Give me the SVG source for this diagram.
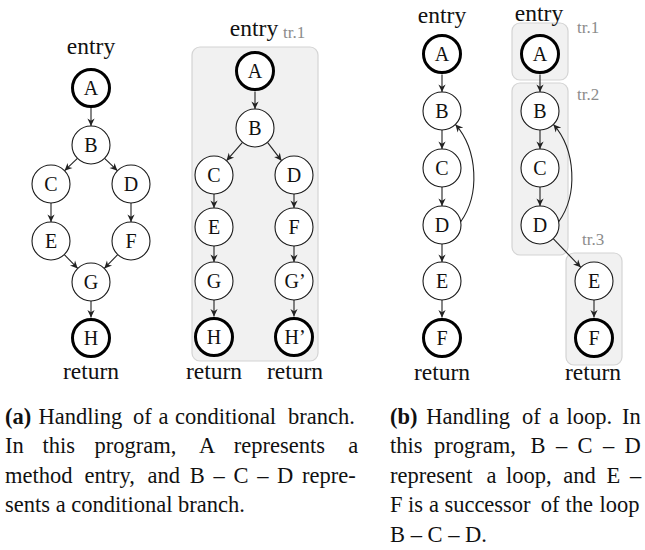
<svg xmlns="http://www.w3.org/2000/svg" width="645" height="550" viewBox="0 0 645 550">
<style>
.n{fill:#fff;stroke:#1a1a1a;stroke-width:1.1}
.t{fill:#fff;stroke:#000;stroke-width:3}
.lb{font-family:"Liberation Serif",serif;font-size:20px;fill:#111;text-anchor:middle}
.er{font-family:"Liberation Serif",serif;font-size:23.5px;fill:#111;text-anchor:middle}
.tr{font-family:"Liberation Serif",serif;font-size:17px;fill:#8c8c8c}
.box{fill:#f1f1f1;stroke:#d4d4d4;stroke-width:1.2}
.e{fill:none;stroke:#222;stroke-width:1.1;marker-end:url(#ah)}
.cap{font-family:"Liberation Serif",serif;font-size:22.5px;fill:#111}
.b{font-weight:bold}
</style>
<defs>
<marker id="ah" viewBox="-8 -4 9 8" refX="0" refY="0" markerWidth="9" markerHeight="8" markerUnits="userSpaceOnUse" orient="auto">
<path d="M0,0 L-7.5,-3.6 L-5.2,0 L-7.5,3.6 Z" fill="#222"/>
</marker>
</defs>

<g id="boxes">
<rect class="box" x="192" y="47" width="126" height="314" rx="8"/>
<rect class="box" x="512" y="23" width="56" height="57" rx="8"/>
<rect class="box" x="512" y="83" width="56" height="172" rx="8"/>
<rect class="box" x="566" y="253" width="56" height="112" rx="8"/>
</g>

<g id="connectors">
<!-- a1 -->
<path class="e" d="M91,108 L91,126"/>
<path class="e" d="M77.4,158.3 L64.6,170.7"/>
<path class="e" d="M104.6,158.3 L117.4,170.7"/>
<path class="e" d="M51,203 L51,222"/>
<path class="e" d="M131,203 L131,222"/>
<path class="e" d="M64.3,254.6 L77.7,268.4"/>
<path class="e" d="M117.7,254.6 L104.3,268.4"/>
<path class="e" d="M91,301 L91,317.5"/>
<!-- a2 -->
<path class="e" d="M255,91.5 L255,109"/>
<path class="e" d="M242.5,142.3 L226.5,160.7"/>
<path class="e" d="M267.5,142.3 L281.5,160.7"/>
<path class="e" d="M214,194 L214,208"/>
<path class="e" d="M294,194 L294,208"/>
<path class="e" d="M214,246 L214,262"/>
<path class="e" d="M294,246 L294,262"/>
<path class="e" d="M214,300 L214,316.5"/>
<path class="e" d="M294,300 L294,316.5"/>
<!-- b1 -->
<path class="e" d="M442,74.5 L442,92"/>
<path class="e" d="M442,130 L442,149"/>
<path class="e" d="M442,187 L442,206"/>
<path class="e" d="M442,244 L442,262"/>
<path class="e" d="M442,300 L442,317.5"/>
<path class="e" d="M460.7,221.7 C480,195 478,150 455.4,124.4"/>
<!-- b2 -->
<path class="e" d="M540,74.5 L540,92"/>
<path class="e" d="M540,130 L540,149"/>
<path class="e" d="M540,187 L540,206"/>
<path class="e" d="M553.2,238.7 L580.8,267.3"/>
<path class="e" d="M594,300 L594,317.5"/>
<path class="e" d="M558.7,221.7 C578,195 576,150 553.4,124.4"/>
</g>

<g id="a1">
<text class="er" x="91" y="54">entry</text>
<g id="a1-A"><circle class="t" cx="91" cy="88" r="18.5"/><text class="lb" x="91" y="95">A</text></g>
<g id="a1-B"><circle class="n" cx="91" cy="145" r="19"/><text class="lb" x="91" y="152">B</text></g>
<g id="a1-C"><circle class="n" cx="51" cy="184" r="19"/><text class="lb" x="51" y="191">C</text></g>
<g id="a1-D"><circle class="n" cx="131" cy="184" r="19"/><text class="lb" x="131" y="191">D</text></g>
<g id="a1-E"><circle class="n" cx="51" cy="241" r="19"/><text class="lb" x="51" y="248">E</text></g>
<g id="a1-F"><circle class="n" cx="131" cy="241" r="19"/><text class="lb" x="131" y="248">F</text></g>
<g id="a1-G"><circle class="n" cx="91" cy="282" r="19"/><text class="lb" x="91" y="289">G</text></g>
<g id="a1-H"><circle class="t" cx="91" cy="338" r="18.5"/><text class="lb" x="91" y="345">H</text></g>
<text class="er" x="91" y="379">return</text>
</g>

<g id="a2">
<text class="er" x="254" y="36">entry</text>
<text class="tr" x="283" y="38">tr.1</text>
<g id="a2-A"><circle class="t" cx="255" cy="71" r="18.5"/><text class="lb" x="255" y="78">A</text></g>
<g id="a2-B"><circle class="n" cx="255" cy="128" r="19"/><text class="lb" x="255" y="135">B</text></g>
<g id="a2-C"><circle class="n" cx="214" cy="175" r="19"/><text class="lb" x="214" y="182">C</text></g>
<g id="a2-D"><circle class="n" cx="294" cy="175" r="19"/><text class="lb" x="294" y="182">D</text></g>
<g id="a2-E"><circle class="n" cx="214" cy="227" r="19"/><text class="lb" x="214" y="234">E</text></g>
<g id="a2-F"><circle class="n" cx="294" cy="227" r="19"/><text class="lb" x="294" y="234">F</text></g>
<g id="a2-G"><circle class="n" cx="214" cy="281" r="19"/><text class="lb" x="214" y="288">G</text></g>
<g id="a2-G2"><circle class="n" cx="294" cy="281" r="19"/><text class="lb" x="295" y="288">G’</text></g>
<g id="a2-H"><circle class="t" cx="214" cy="337" r="18.5"/><text class="lb" x="214" y="344">H</text></g>
<g id="a2-H2"><circle class="t" cx="294" cy="337" r="18.5"/><text class="lb" x="295" y="344">H’</text></g>
<text class="er" x="214" y="379">return</text>
<text class="er" x="295" y="379">return</text>
</g>

<g id="b1">
<text class="er" x="442" y="23">entry</text>
<g id="b1-A"><circle class="t" cx="442" cy="54" r="18.5"/><text class="lb" x="442" y="61">A</text></g>
<g id="b1-B"><circle class="n" cx="442" cy="111" r="19"/><text class="lb" x="442" y="118">B</text></g>
<g id="b1-C"><circle class="n" cx="442" cy="168" r="19"/><text class="lb" x="442" y="175">C</text></g>
<g id="b1-D"><circle class="n" cx="442" cy="225" r="19"/><text class="lb" x="442" y="232">D</text></g>
<g id="b1-E"><circle class="n" cx="442" cy="281" r="19"/><text class="lb" x="442" y="288">E</text></g>
<g id="b1-F"><circle class="t" cx="442" cy="338" r="18.5"/><text class="lb" x="442" y="345">F</text></g>
<text class="er" x="442" y="380">return</text>
</g>

<g id="b2">
<text class="er" x="539" y="21">entry</text>
<text class="tr" x="577" y="33">tr.1</text>
<text class="tr" x="577" y="100">tr.2</text>
<text class="tr" x="582" y="245">tr.3</text>
<g id="b2-A"><circle class="t" cx="540" cy="54" r="18.5"/><text class="lb" x="540" y="61">A</text></g>
<g id="b2-B"><circle class="n" cx="540" cy="111" r="19"/><text class="lb" x="540" y="118">B</text></g>
<g id="b2-C"><circle class="n" cx="540" cy="168" r="19"/><text class="lb" x="540" y="175">C</text></g>
<g id="b2-D"><circle class="n" cx="540" cy="225" r="19"/><text class="lb" x="540" y="232">D</text></g>
<g id="b2-E"><circle class="n" cx="594" cy="281" r="19"/><text class="lb" x="594" y="288">E</text></g>
<g id="b2-F"><circle class="t" cx="594" cy="338" r="18.5"/><text class="lb" x="594" y="345">F</text></g>
<text class="er" x="593" y="380">return</text>
</g>

<g id="caption-a" class="cap">
<text y="423.5"><tspan x="5" class="b">(a)</tspan> <tspan x="38.5">Handling</tspan> <tspan x="133">of</tspan> <tspan x="158.6">a</tspan> <tspan x="174.9">conditional</tspan> <tspan x="288">branch.</tspan></text>
<text y="453"><tspan x="5">In</tspan> <tspan x="42.5">this</tspan> <tspan x="94.6">program,</tspan> <tspan x="199">A</tspan> <tspan x="233.8">represents</tspan> <tspan x="348.2">a</tspan></text>
<text y="482.5"><tspan x="5">method</tspan> <tspan x="84.5">entry,</tspan> <tspan x="147.4">and</tspan> <tspan x="189.8">B</tspan> <tspan x="213.6">–</tspan> <tspan x="233.4">C</tspan> <tspan x="257.2">–</tspan> <tspan x="277">D</tspan> <tspan x="302.1">repre-</tspan></text>
<text y="512"><tspan x="5">sents a conditional branch.</tspan></text>
</g>

<g id="caption-b" class="cap">
<text y="423.5"><tspan x="390" class="b">(b)</tspan> <tspan x="426.2">Handling</tspan> <tspan x="522">of</tspan> <tspan x="549">a</tspan> <tspan x="566.6">loop.</tspan> <tspan x="622">In</tspan></text>
<text y="453"><tspan x="390">this</tspan> <tspan x="434.1">program,</tspan> <tspan x="530.5">B</tspan> <tspan x="556">–</tspan> <tspan x="577.5">C</tspan> <tspan x="603">–</tspan> <tspan x="624.5">D</tspan></text>
<text y="482.5"><tspan x="390">represent</tspan> <tspan x="486.4">a</tspan> <tspan x="505.9">loop,</tspan> <tspan x="563.2">and</tspan> <tspan x="606.6">E</tspan> <tspan x="630.1">–</tspan></text>
<text y="512"><tspan x="390">F</tspan> <tspan x="408.1">is</tspan> <tspan x="428.9">a</tspan> <tspan x="444.4">successor</tspan> <tspan x="540.7">of</tspan> <tspan x="565.5">the</tspan> <tspan x="599.5">loop</tspan></text>
<text y="541.5"><tspan x="390">B – C – D.</tspan></text>
</g>
</svg>
